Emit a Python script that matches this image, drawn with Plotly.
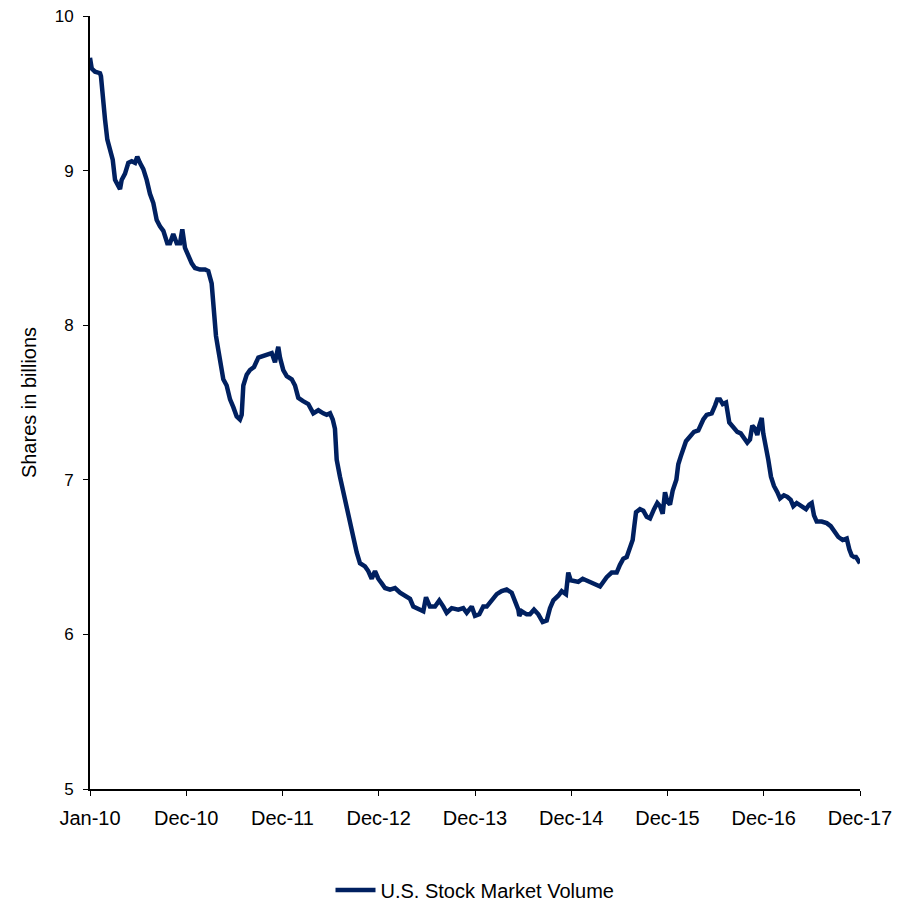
import plotly.graph_objects as go

# Time position in years since Jan-10 (tick units), and volume in billions of shares
years_since_start = [
    0.0, 0.018, 0.052, 0.104, 0.114, 0.132, 0.156, 0.180, 0.208, 0.236, 0.260, 0.277, 0.312, 0.329,
    0.364, 0.398, 0.433, 0.468, 0.491, 0.519, 0.554, 0.589, 0.623, 0.658, 0.693, 0.727, 0.762,
    0.803, 0.831, 0.865, 0.901, 0.935, 0.959, 0.987, 1.021, 1.057, 1.091, 1.143, 1.195, 1.229,
    1.264, 1.281, 1.309, 1.333, 1.358, 1.385, 1.420, 1.455, 1.489, 1.524, 1.558, 1.576, 1.593,
    1.628, 1.662, 1.704, 1.749, 1.801, 1.852, 1.888, 1.922, 1.956, 1.974, 2.008, 2.044, 2.096,
    2.130, 2.164, 2.210, 2.268, 2.320, 2.372, 2.424, 2.459, 2.494, 2.522, 2.545, 2.563, 2.597,
    2.632, 2.667, 2.701, 2.736, 2.771, 2.805, 2.857, 2.891, 2.927, 2.961, 2.995, 3.031, 3.065,
    3.117, 3.169, 3.221, 3.273, 3.325, 3.359, 3.429, 3.463, 3.491, 3.532, 3.584, 3.629, 3.671,
    3.706, 3.758, 3.826, 3.878, 3.914, 3.966, 4.000, 4.045, 4.086, 4.122, 4.156, 4.190, 4.226,
    4.277, 4.329, 4.381, 4.416, 4.450, 4.460, 4.485, 4.537, 4.571, 4.613, 4.658, 4.703, 4.745,
    4.779, 4.814, 4.865, 4.901, 4.945, 4.969, 4.994, 5.039, 5.073, 5.119, 5.160, 5.213, 5.265,
    5.299, 5.333, 5.368, 5.420, 5.472, 5.506, 5.541, 5.576, 5.610, 5.638, 5.655, 5.673, 5.714,
    5.749, 5.784, 5.818, 5.860, 5.894, 5.922, 5.950, 5.974, 5.998, 6.026, 6.054, 6.092, 6.112,
    6.137, 6.164, 6.192, 6.234, 6.275, 6.320, 6.345, 6.372, 6.407, 6.459, 6.494, 6.517, 6.545,
    6.574, 6.608, 6.621, 6.642, 6.684, 6.725, 6.761, 6.795, 6.829, 6.857, 6.881, 6.909, 6.933,
    6.954, 6.979, 6.995, 7.023, 7.047, 7.075, 7.106, 7.141, 7.169, 7.210, 7.245, 7.280, 7.307,
    7.342, 7.384, 7.439, 7.473, 7.498, 7.522, 7.550, 7.602, 7.654, 7.696, 7.730, 7.775, 7.820,
    7.862, 7.889, 7.914, 7.938, 7.958, 7.980, 8.0,
]
volume_billions = [
    9.73, 9.66, 9.64, 9.63, 9.61, 9.46, 9.33, 9.20, 9.13, 9.07, 8.94, 8.92, 8.88, 8.94,
    8.98, 9.05, 9.06, 9.05, 9.09, 9.05, 9.01, 8.94, 8.85, 8.79, 8.68, 8.64, 8.61,
    8.53, 8.53, 8.59, 8.53, 8.53, 8.62, 8.50, 8.45, 8.40, 8.37, 8.36, 8.36, 8.35,
    8.27, 8.14, 7.93, 7.84, 7.76, 7.65, 7.61, 7.52, 7.47, 7.41, 7.39, 7.42, 7.61,
    7.68, 7.71, 7.73, 7.79, 7.80, 7.81, 7.82, 7.76, 7.86, 7.79, 7.71, 7.67, 7.65,
    7.61, 7.53, 7.51, 7.49, 7.43, 7.45, 7.43, 7.42, 7.43, 7.39, 7.33, 7.13, 7.02,
    6.92, 6.81, 6.72, 6.61, 6.53, 6.46, 6.44, 6.41, 6.36, 6.41, 6.36, 6.33, 6.30,
    6.29, 6.30, 6.27, 6.25, 6.23, 6.18, 6.16, 6.15, 6.24, 6.18, 6.18, 6.22, 6.18,
    6.14, 6.17, 6.16, 6.17, 6.14, 6.18, 6.12, 6.13, 6.18, 6.18, 6.21, 6.23, 6.26,
    6.28, 6.29, 6.27, 6.22, 6.16, 6.12, 6.15, 6.13, 6.13, 6.16, 6.13, 6.08, 6.09,
    6.17, 6.22, 6.25, 6.28, 6.26, 6.40, 6.35, 6.34, 6.34, 6.36, 6.35, 6.34, 6.32,
    6.31, 6.34, 6.37, 6.40, 6.40, 6.45, 6.49, 6.50, 6.56, 6.61, 6.70, 6.79, 6.81,
    6.80, 6.76, 6.75, 6.81, 6.85, 6.83, 6.78, 6.92, 6.86, 6.84, 6.93, 7.00, 7.10,
    7.15, 7.20, 7.25, 7.28, 7.31, 7.32, 7.36, 7.39, 7.42, 7.43, 7.48, 7.52, 7.52,
    7.49, 7.50, 7.43, 7.37, 7.34, 7.31, 7.30, 7.27, 7.24, 7.26, 7.35, 7.33, 7.29,
    7.35, 7.40, 7.30, 7.22, 7.13, 7.02, 6.96, 6.92, 6.88, 6.90, 6.89, 6.87, 6.83,
    6.85, 6.83, 6.81, 6.84, 6.85, 6.77, 6.73, 6.73, 6.72, 6.70, 6.67, 6.63, 6.61,
    6.62, 6.55, 6.51, 6.50, 6.50, 6.48, 6.46,
]

tick_positions = [0, 1, 2, 3, 4, 5, 6, 7, 8]
tick_labels = ["Jan-10", "Dec-10", "Dec-11", "Dec-12", "Dec-13", "Dec-14", "Dec-15", "Dec-16", "Dec-17"]
series_name = "U.S. Stock Market Volume"

fig = go.Figure()
fig.add_trace(go.Scatter(
    x=years_since_start, y=volume_billions, mode="lines", name=series_name,
    line=dict(color="#002060", width=4.5),
))

family = "Liberation Sans, Arial, sans-serif"
fig.update_layout(
    width=916, height=905,
    margin=dict(l=82, r=64, t=8, b=124),
    plot_bgcolor="white", paper_bgcolor="white",
    font=dict(family=family, size=18, color="black"),
    showlegend=True,
    legend=dict(orientation="h", x=0.5, xanchor="center", yref="container",
                y=0.0254, yanchor="middle",
                font=dict(family=family, size=20, color="black"), itemwidth=40),
    xaxis=dict(range=[0, 8], tickvals=tick_positions, ticktext=tick_labels,
               tickfont=dict(family=family, size=20, color="black"),
               showgrid=False, zeroline=False, showline=True, linecolor="black", linewidth=2,
               ticks="outside", ticklen=5, tickcolor="black", tickwidth=1,
               ticklabelstandoff=5, ticklabeloverflow="allow", automargin=False),
    yaxis=dict(range=[5, 10], dtick=1,
               tickfont=dict(family=family, size=17, color="black"),
               title=dict(text="Shares in billions", standoff=13,
                          font=dict(family=family, size=20, color="black")),
               showgrid=False, zeroline=False, showline=True, linecolor="black", linewidth=2,
               ticks="outside", ticklen=5, tickcolor="black", tickwidth=1,
               ticklabelstandoff=6, ticklabeloverflow="allow", automargin=False),
)

fig.write_html("out.html")
